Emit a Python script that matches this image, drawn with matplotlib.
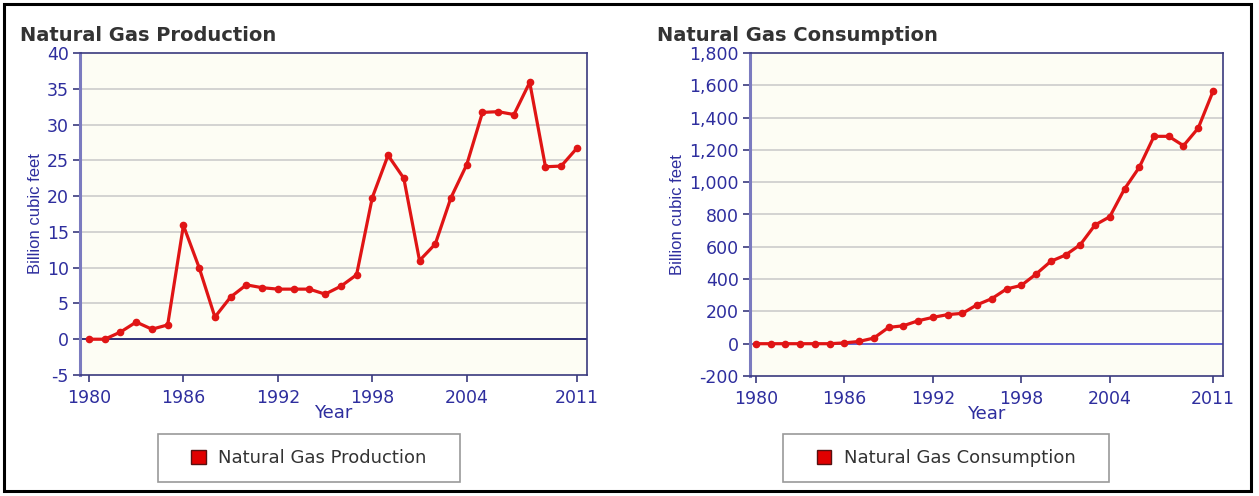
import matplotlib
matplotlib.use("Agg")
import matplotlib.pyplot as plt
from matplotlib.patches import Rectangle, Patch
from matplotlib.ticker import StrMethodFormatter

plt.rcParams["axes.unicode_minus"] = False

years = list(range(1980, 2012))
production = [0.0, 0.0, 1.0, 2.4, 1.4, 2.0, 15.9, 10.0, 3.1, 5.9, 7.6, 7.2,
              7.0, 7.0, 7.0, 6.3, 7.4, 9.0, 19.8, 25.7, 22.5, 11.0, 13.3, 19.8,
              24.4, 31.7, 31.8, 31.4, 35.9, 24.1, 24.2, 26.7]
consumption = [0, 0, 0, 0, 0, 0, 5, 14, 35, 101, 111, 142,
               163, 180, 188, 241, 279, 339, 361, 431, 510, 549, 613, 735,
               786, 958, 1092, 1284, 1284, 1226, 1335, 1562]
year_ticks = [1980, 1986, 1992, 1998, 2004, 2011]
prod_ticks = [-5, 0, 5, 10, 15, 20, 25, 30, 35, 40]
cons_ticks = [-200, 0, 200, 400, 600, 800, 1000, 1200, 1400, 1600, 1800]

W, H = 1259, 496
RED = "#e01515"
BLUE = "#2e2e9e"
NAVY = "#3a3a7e"

fig = plt.figure(figsize=(W / 100, H / 100), dpi=100)


def px_box(x0, y0, x1, y1):
    # pixel box (top-down) -> figure fraction [left, bottom, width, height]
    return [x0 / W, (H - y1) / H, (x1 - x0) / W, (y1 - y0) / H]


def make_panel(box, values, ticks, xlim, fmt, title, title_x, zero_color, legend_box, label):
    ax = fig.add_axes(px_box(*box))
    ax.set_facecolor("#fdfdf4")
    ax.plot(years, values, color=RED, lw=2.3, marker="o", ms=4.5, zorder=4)
    ax.set_xlim(*xlim)
    ax.set_ylim(ticks[0], ticks[-1])
    ax.set_yticks(ticks)
    ax.set_xticks(year_ticks)
    ax.yaxis.set_major_formatter(StrMethodFormatter(fmt))
    for t in ticks[1:-1]:
        if t != 0:
            ax.axhline(t, color="#cccccc", lw=1.2, zorder=1)
    ax.axhline(0, color=zero_color, lw=1.3, zorder=2)
    ax.tick_params(axis="both", colors=NAVY, labelcolor=BLUE, labelsize=12.5,
                   length=5, width=1.2)
    ax.tick_params(axis="y", pad=3)
    ax.tick_params(axis="x", pad=5)
    for s in ["top", "right", "bottom"]:
        ax.spines[s].set_color(NAVY)
        ax.spines[s].set_linewidth(1.2)
    ax.spines["left"].set_color("#7b7bbf")
    ax.spines["left"].set_linewidth(2.2)
    ax.set_ylabel("Billion cubic feet", color=BLUE, fontsize=12,
                  family="Liberation Sans", labelpad=3)
    ax.set_xlabel("Year", color=BLUE, fontsize=13, labelpad=-2)
    fig.text(title_x / W, (H - 41) / H, title, fontsize=14, fontweight="bold",
             color="#333333", va="baseline", ha="left")

    lx0, ly0, lx1, ly1 = legend_box
    b = px_box(lx0, ly0, lx1, ly1)
    fig.patches.append(Rectangle((b[0], b[1]), b[2], b[3], transform=fig.transFigure,
                                 fill=False, edgecolor="#9a9a9a", lw=1.2))
    handle = Patch(facecolor="#e00000", edgecolor="#551111", lw=1.0)
    fig.legend([handle], [label], loc="center",
               bbox_to_anchor=(b[0] + b[2] / 2, b[1] + b[3] / 2),
               frameon=False, fontsize=13, labelcolor="#333333",
               handlelength=0.8, handleheight=0.8, handletextpad=0.7)
    return ax


make_panel((80, 53, 587, 375), production, prod_ticks, (1979.43, 2011.64), "{x:.0f}",
           "Natural Gas Production", 20, "#1f1f6e", (158, 434, 460, 482),
           "Natural Gas Production")
make_panel((750, 53, 1223, 376), consumption, cons_ticks, (1979.6, 2011.68), "{x:,.0f}",
           "Natural Gas Consumption", 657, "#5555cc", (783, 434, 1109, 482),
           "Natural Gas Consumption")

# outer black frame
fb = px_box(4, 4, 1251, 491)
fig.patches.append(Rectangle((fb[0], fb[1]), fb[2], fb[3], transform=fig.transFigure,
                             fill=False, edgecolor="black", lw=2.2))

fig.savefig("out.png", dpi=100)
